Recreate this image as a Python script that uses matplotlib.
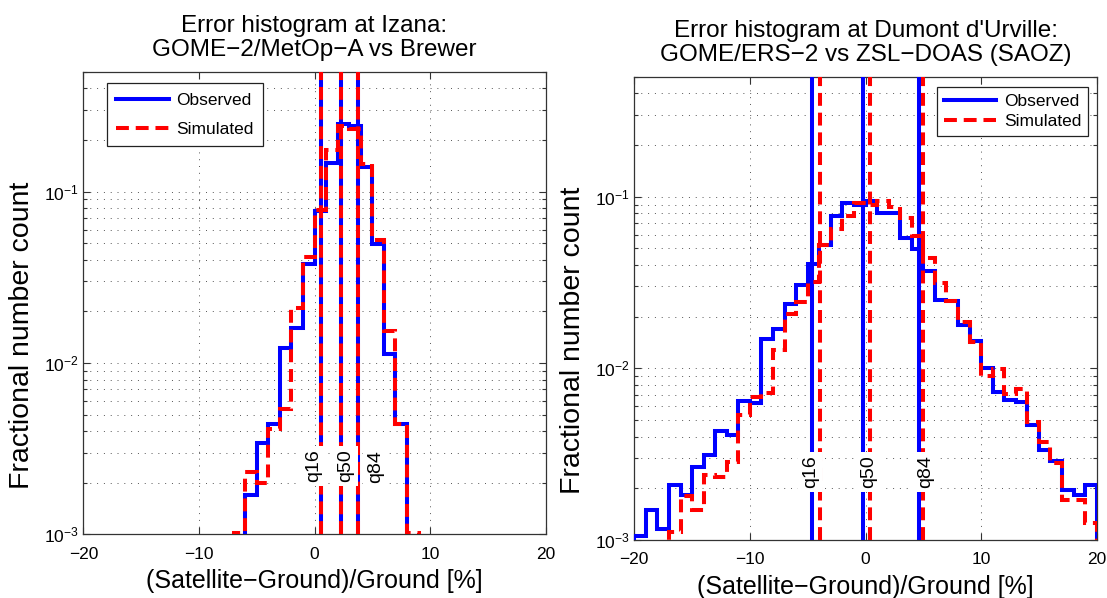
import matplotlib
matplotlib.use("Agg")
import matplotlib.pyplot as plt
from matplotlib.lines import Line2D
from matplotlib.ticker import FixedLocator, LogFormatterSciNotation, NullFormatter
import numpy as np

plt.rcParams["font.family"] = ["Liberation Sans", "DejaVu Sans"]
plt.rcParams["mathtext.default"] = "regular"

# Izana: GOME-2/MetOp-A vs Brewer, fractional counts in 1 % bins
IZANA_OBS_START = -6
IZANA_OBS = [0.0017, 0.0034, 0.0044, 0.0122, 0.016, 0.038, 0.077, 0.147,
             0.248, 0.240, 0.139, 0.0497, 0.0113, 0.0044]
IZANA_SIM_START = -7
IZANA_SIM = [0.00102, 0.0023, 0.0020, 0.0041, 0.0054, 0.021, 0.0414, 0.0785,
             0.174, 0.240, 0.232, 0.144, 0.052, 0.0153, 0.0044, 0.00102]
IZANA_Q_OBS = [0.55, 2.3, 3.8]
IZANA_Q_SIM = [0.55, 2.3, 3.8]

# Dumont d'Urville: GOME/ERS-2 vs ZSL-DOAS (SAOZ)
DUMONT_OBS_START = -20
DUMONT_OBS = [0.00105, 0.00149, 0.00116, 0.00208, 0.00183, 0.00267, 0.00311,
              0.00432, 0.00411, 0.00645, 0.0063, 0.0148, 0.0170, 0.0237,
              0.0304, 0.0408, 0.052, 0.0767, 0.0915, 0.0890, 0.0948, 0.0800,
              0.0800, 0.0574, 0.0495, 0.0367, 0.0249, 0.0248, 0.0178, 0.0144,
              0.0100, 0.0073, 0.0065, 0.0064, 0.00468, 0.00334, 0.00289,
              0.00196, 0.00184, 0.0021]
DUMONT_SIM_START = -17
DUMONT_SIM = [0.00112, 0.0018, 0.0015, 0.0024, 0.00232, 0.00286, 0.00534,
              0.0068, 0.0072, 0.0128, 0.0207, 0.0245, 0.032, 0.052, 0.0649,
              0.0767, 0.0919, 0.0898, 0.095, 0.087, 0.075, 0.0587, 0.044,
              0.0316, 0.0248, 0.0187, 0.0143, 0.0090, 0.0099, 0.0071, 0.0076,
              0.0049, 0.0037, 0.0028, 0.0017, 0.0017, 0.00125]
DUMONT_Q_OBS = [-4.65, -0.2, 4.62]
DUMONT_Q_SIM = [-3.93, 0.38, 5.0]

Q_NAMES = ["q16", "q50", "q84"]
X_TICKS = [-20, -10, 0, 10, 20]
Y_LIM = (1e-3, 0.5)

# layout
BLUE = "#0000ff"
RED = "#ff0000"
LW = 2.9
DASH = (0, (3.2, 1.7))
LABEL_Y = 0.0025
IZANA_LABEL_X = [-0.1, 2.7, 5.25]
DUMONT_LABEL_X = [-4.77, 0.3, 5.18]


def edges(start, values):
    return np.arange(start, start + len(values) + 1)


def draw_panel(ax, obs_start, obs, sim_start, sim, q_obs, q_sim, label_x, title):
    ax.stairs(obs, edges(obs_start, obs), baseline=1e-6, color=BLUE, lw=LW, zorder=3)
    ax.stairs(sim, edges(sim_start, sim), baseline=1e-6, color=RED, lw=LW,
              linestyle=DASH, zorder=4)
    for q in q_obs:
        ax.axvline(q, color=BLUE, lw=LW, zorder=3)
    for q in q_sim:
        ax.axvline(q, color=RED, lw=LW, linestyle=DASH, zorder=4)
    for x, name in zip(label_x, Q_NAMES):
        ax.text(x, LABEL_Y, name, rotation=90, ha="center", va="center",
                fontsize=14, zorder=6,
                bbox=dict(facecolor="white", edgecolor="none", pad=2.5))

    ax.set_yscale("log")
    ax.set_xlim(X_TICKS[0], X_TICKS[-1])
    ax.set_ylim(*Y_LIM)
    ax.set_xticks(X_TICKS)
    ax.yaxis.set_major_locator(FixedLocator([1e-3, 1e-2, 1e-1]))
    ax.yaxis.set_major_formatter(LogFormatterSciNotation())
    minors = [m * 10.0 ** e for e in (-3, -2, -1) for m in range(2, 10)]
    ax.yaxis.set_minor_locator(FixedLocator([v for v in minors if v <= Y_LIM[1]]))
    ax.yaxis.set_minor_formatter(NullFormatter())

    ax.tick_params(which="both", direction="in", top=True, right=True,
                   color="#333333", width=0.8)
    ax.tick_params(which="major", length=5, labelsize=12.5)
    ax.tick_params(which="minor", length=3)
    ax.tick_params(axis="x", pad=9)
    ax.tick_params(axis="y", pad=3)
    ax.grid(True, which="major", axis="x", color="#555555", lw=0.7,
            linestyle=(0, (1, 6)))
    ax.grid(True, which="both", axis="y", color="#555555", lw=0.7,
            linestyle=(0, (1, 6)))
    for sp in ax.spines.values():
        sp.set_color("#333333")
        sp.set_linewidth(0.9)

    ax.set_title(title, fontsize=17.5, pad=11, linespacing=1.12)
    ax.set_xlabel("(Satellite\u2212Ground)/Ground [%]", fontsize=18)
    ax.set_ylabel("Fractional number count", fontsize=20.5)
    ax.xaxis.set_label_coords(0.5, -0.075)
    ax.yaxis.set_label_coords(-0.105, 0.43)


def main():
    fig = plt.figure(figsize=(11.07, 5.98), dpi=100)
    ax1 = fig.add_axes([0.0753, 0.1065, 0.4177, 0.7735])
    ax2 = fig.add_axes([0.5730, 0.0970, 0.4177, 0.7747])

    draw_panel(ax1, IZANA_OBS_START, IZANA_OBS, IZANA_SIM_START, IZANA_SIM,
               IZANA_Q_OBS, IZANA_Q_SIM, IZANA_LABEL_X,
               "Error histogram at Izana:\nGOME\u22122/MetOp\u2212A vs Brewer")
    draw_panel(ax2, DUMONT_OBS_START, DUMONT_OBS, DUMONT_SIM_START, DUMONT_SIM,
               DUMONT_Q_OBS, DUMONT_Q_SIM, DUMONT_LABEL_X,
               "Error histogram at Dumont d'Urville:\nGOME/ERS\u22122 vs ZSL\u2212DOAS (SAOZ)")

    handles = [Line2D([], [], color=BLUE, lw=LW),
               Line2D([], [], color=RED, lw=LW, linestyle=DASH)]
    common = dict(fontsize=12.5, handlelength=3.0, handletextpad=0.45,
                  fancybox=False, edgecolor="#222222", framealpha=1,
                  borderaxespad=0)
    leg1 = ax1.legend(handles, ["Observed", "Simulated"], loc="upper left",
                      bbox_to_anchor=(0.051, 0.9756), labelspacing=0.8,
                      borderpad=0.55, **common)
    leg2 = ax2.legend(handles, ["Observed", "Simulated"], loc="upper right",
                      bbox_to_anchor=(0.981, 0.978), labelspacing=0.32,
                      borderpad=0.38, **common)
    for leg in (leg1, leg2):
        leg.get_frame().set_linewidth(0.9)
        leg.set_zorder(10)

    fig.savefig("out.png", dpi=100)
    plt.close(fig)


if __name__ == "__main__":
    main()
